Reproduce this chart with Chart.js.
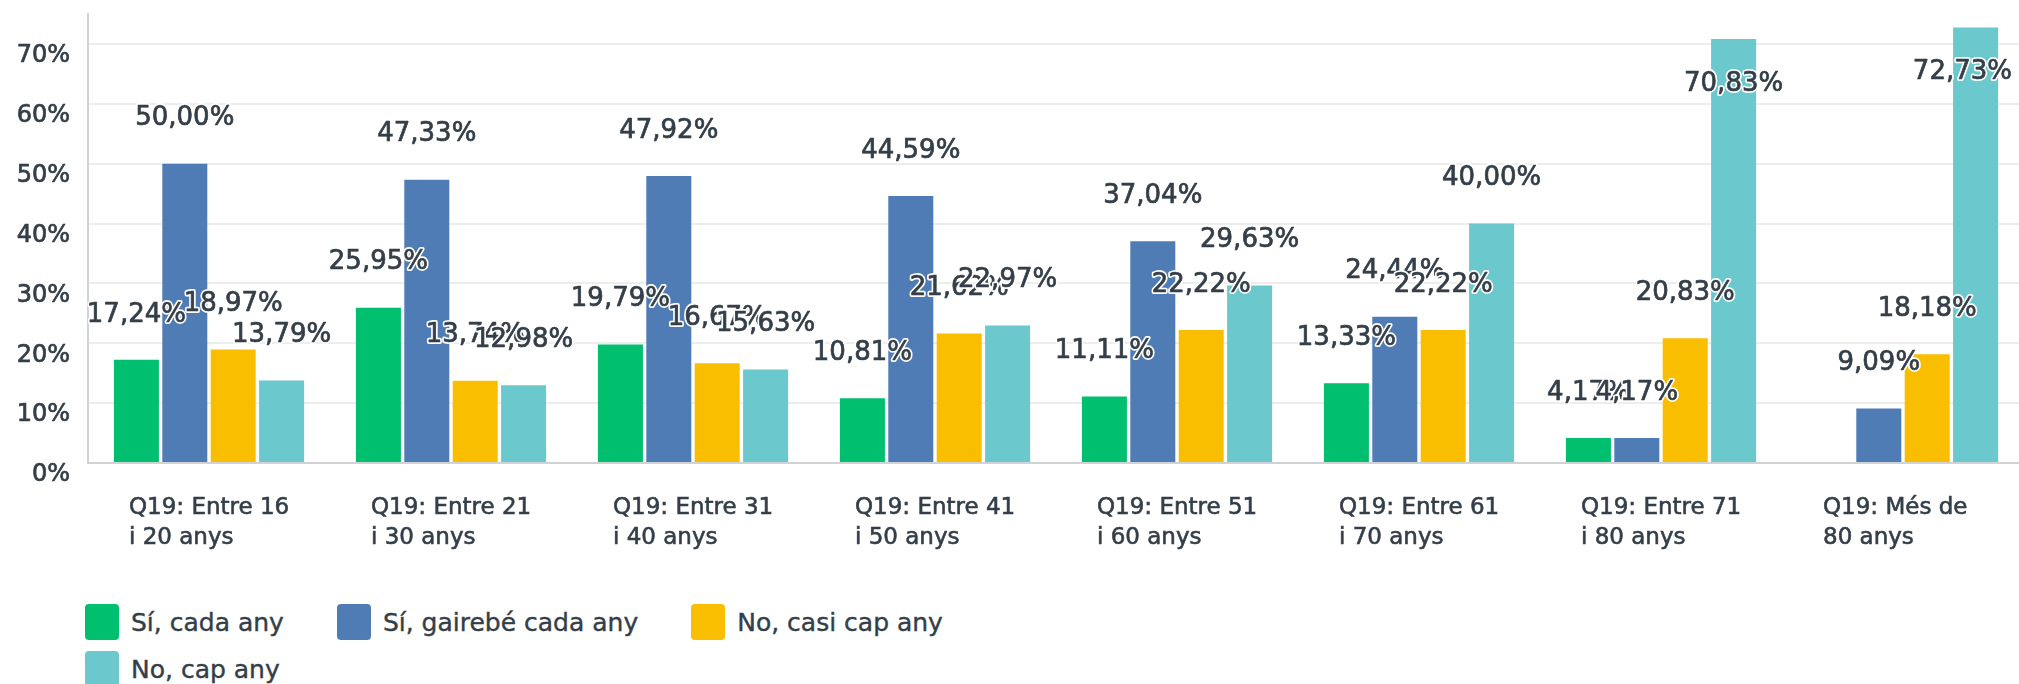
<!DOCTYPE html>
<html>
<head>
<meta charset="utf-8">
<script src="https://cdn.jsdelivr.net/npm/chart.js@4/dist/chart.umd.min.js"></script>
<style>
  html, body { margin: 0; padding: 0; background: #fff; overflow: hidden; }
  #wrap { position: relative; width: 2024px; height: 700px; }
  #box { position: absolute; left: 0; top: 0; width: 2024px; height: 590px; }
  #legend { position: absolute; left: 85px; top: 604px; width: 1000px; display: flex; flex-wrap: wrap; row-gap: 11px;
    font-family: 'DejaVu Sans', sans-serif; font-size: 25px; color: #333e48; -webkit-text-stroke: 0.4px #333e48; }
  #legend .item { display: flex; align-items: center; margin-right: 53px; height: 36px; }
  #legend .sw { width: 34px; height: 36px; border-radius: 4px; margin-right: 12px; }
</style>
</head>
<body>
<div id="wrap">
  <div id="box"><canvas id="grafic"></canvas></div>
  <div id="legend"></div>
</div>
<script>
const categories = [
  ['Q19: Entre 16', 'i 20 anys'],
  ['Q19: Entre 21', 'i 30 anys'],
  ['Q19: Entre 31', 'i 40 anys'],
  ['Q19: Entre 41', 'i 50 anys'],
  ['Q19: Entre 51', 'i 60 anys'],
  ['Q19: Entre 61', 'i 70 anys'],
  ['Q19: Entre 71', 'i 80 anys'],
  ['Q19: Més de', '80 anys']
]
const seriesNames = ['Sí, cada any', 'Sí, gairebé cada any', 'No, casi cap any', 'No, cap any']
const siCadaAny = [17.24, 25.95, 19.79, 10.81, 11.11, 13.33, 4.17, 0]
const siGairebe = [50.00, 47.33, 47.92, 44.59, 37.04, 24.44, 4.17, 9.09]
const noCasiCap = [18.97, 13.74, 16.67, 21.62, 22.22, 22.22, 20.83, 18.18]
const noCapAny = [13.79, 12.98, 15.63, 22.97, 29.63, 40.00, 70.83, 72.73]
const colors = ['#00bf6f', '#507cb6', '#f9be00', '#6bc8cd']

const textColor = '#333e48'
const fmt = v => v.toFixed(2).replace('.', ',') + '%'

// etiquetes de valor sobre cada barra
const valueLabels = {
  id: 'valueLabels',
  afterDatasetsDraw(chart) {
    const ctx = chart.ctx
    ctx.save()
    ctx.font = '26px "DejaVu Sans"'
    ctx.textAlign = 'center'
    ctx.textBaseline = 'middle'
    ctx.lineJoin = 'round'
    chart.data.datasets.forEach((ds, i) => {
      chart.getDatasetMeta(i).data.forEach((bar, j) => {
        const v = ds.data[j]
        if (!v) return
        const txt = fmt(v)
        const w = ctx.measureText(txt).width
        let y = bar.y - 45
        if (y < 25) y = bar.y + 45
        const x = Math.min(bar.x, chart.width - 12 - w / 2)
        ctx.strokeStyle = '#fff'
        ctx.lineWidth = 4
        ctx.strokeText(txt, x, y)
        ctx.strokeStyle = textColor
        ctx.lineWidth = 0.7
        ctx.strokeText(txt, x, y)
        ctx.fillStyle = textColor
        ctx.fillText(txt, x, y)
      })
    })
    ctx.restore()
  }
}

const allSeries = [siCadaAny, siGairebe, noCasiCap, noCapAny]

const myChart = new Chart(document.querySelector('#grafic').getContext('2d'), {
  type: 'bar',
  data: {
    labels: categories,
    datasets: allSeries.map((d, i) => ({
      label: seriesNames[i],
      data: d,
      backgroundColor: colors[i],
      categoryPercentage: 0.8,
      barPercentage: 0.93
    }))
  },
  options: {
    responsive: true,
    maintainAspectRatio: false,
    animation: false,
    layout: { padding: { left: 0, right: 0, top: 14, bottom: 0 } },
    plugins: {
      legend: { display: false },
      tooltip: { enabled: false }
    },
    scales: {
      x: {
        grid: { display: false },
        border: { display: true, color: '#d0d3d6', width: 2 },
        afterFit: s => { s.paddingLeft = 0; s.paddingRight = 0; s.height = 127 },
        ticks: {
          align: 'start',
          labelOffset: -80,
          padding: 22,
          color: textColor,
          textStrokeColor: textColor,
          textStrokeWidth: 0.6,
          font: { family: 'DejaVu Sans', size: 23, lineHeight: 1.3 },
          maxRotation: 0,
          autoSkip: false
        }
      },
      y: {
        min: 0,
        max: 75,
        grid: { color: '#ededed', lineWidth: 2, drawTicks: false },
        border: { display: true, color: '#d0d3d6', width: 2 },
        afterFit: s => { s.width = 88; s.paddingTop = 0; s.paddingBottom = 0 },
        ticks: {
          stepSize: 10,
          includeBounds: false,
          padding: 18,
          labelOffset: 12,
          color: textColor,
          textStrokeColor: textColor,
          textStrokeWidth: 0.7,
          font: { family: 'DejaVu Sans', size: 24 },
          callback: v => v + '%'
        }
      }
    }
  },
  plugins: [valueLabels]
})

const legend = document.querySelector('#legend')
seriesNames.forEach((name, i) => {
  const item = document.createElement('div')
  item.className = 'item'
  item.innerHTML = '<span class="sw" style="background:' + colors[i] + '"></span><span>' + name + '</span>'
  legend.appendChild(item)
})
</script>
</body>
</html>
